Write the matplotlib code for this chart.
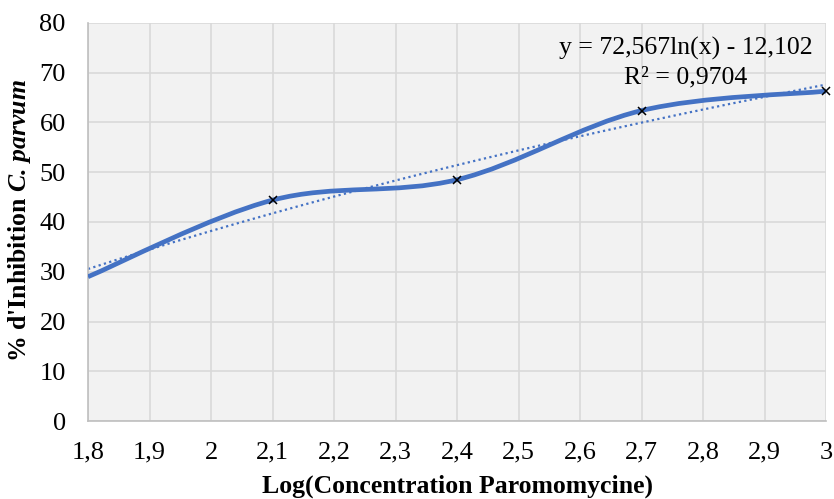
import numpy as np
import matplotlib
matplotlib.use("Agg")
import matplotlib.pyplot as plt
from matplotlib.path import Path
from matplotlib.patches import PathPatch

# Data
log_conc = [1.8, 2.1, 2.4, 2.7, 3.0]
inhibition = [29.0, 44.4, 48.5, 62.4, 66.3]
marker_idx = [1, 2, 3, 4]
trend_a, trend_b = 72.567, -12.102
x_ticks = [1.8, 1.9, 2.0, 2.1, 2.2, 2.3, 2.4, 2.5, 2.6, 2.7, 2.8, 2.9, 3.0]
x_labels = ["1,8", "1,9", "2", "2,1", "2,2", "2,3", "2,4", "2,5", "2,6", "2,7", "2,8", "2,9", "3"]
y_ticks = [0, 10, 20, 30, 40, 50, 60, 70, 80]
eq_text = "y = 72,567ln(x) - 12,102"
r2_text = "R² = 0,9704"

plt.rcParams['font.family'] = ['Liberation Serif', 'DejaVu Serif']
plt.rcParams['mathtext.fontset'] = 'custom'
plt.rcParams['mathtext.rm'] = 'Liberation Serif'
plt.rcParams['mathtext.it'] = 'Liberation Serif:italic'
plt.rcParams['mathtext.bf'] = 'Liberation Serif:bold'
try:
    plt.rcParams['mathtext.bfit'] = 'Liberation Serif:italic:bold'
except Exception:
    pass

W, H = 834, 499
fig = plt.figure(figsize=(W / 100, H / 100), dpi=100)
fig.patch.set_facecolor('white')
ax = fig.add_axes([88 / W, 1 - 421 / H, (826 - 88) / W, (421 - 23) / H])
ax.set_facecolor('#f2f2f2')

blue = '#4472C4'

# smoothed line (Excel-like Catmull-Rom bezier)
P = np.column_stack([log_conc, inhibition])
n = len(P)
verts = [tuple(P[0])]
codes = [Path.MOVETO]
for i in range(n - 1):
    p_prev = P[max(i - 1, 0)]
    p0 = P[i]
    p1 = P[i + 1]
    p_next = P[min(i + 2, n - 1)]
    c1 = p0 + (p1 - p_prev) / 6.0
    c2 = p1 - (p_next - p0) / 6.0
    verts += [tuple(c1), tuple(c2), tuple(p1)]
    codes += [Path.CURVE4] * 3
path = Path(verts, codes)
ax.add_patch(PathPatch(path, facecolor='none', edgecolor=blue, lw=3.4,
                       capstyle='butt', zorder=3))

# trendline
xt = np.linspace(x_ticks[0], x_ticks[-1], 200)
ax.plot(xt, trend_a * np.log(xt) + trend_b, linestyle=(0, (1, 1.5)),
        color=blue, lw=1.6, zorder=2)

# markers
ax.plot([log_conc[i] for i in marker_idx], [inhibition[i] for i in marker_idx],
        linestyle='none', marker='x', color='black', ms=6, mew=1.1, zorder=4,
        clip_on=False)

ax.set_xlim(1.8, 3.0)
ax.set_ylim(0, 80)
ax.set_xticks(x_ticks)
ax.set_xticklabels(x_labels)
ax.set_yticks(y_ticks)
ax.grid(True, color='#d9d9d9', lw=1.2)
ax.set_axisbelow(True)
for s in ['top', 'right']:
    ax.spines[s].set_visible(False)
for s in ['left', 'bottom']:
    ax.spines[s].set_color('#bfbfbf')
    ax.spines[s].set_linewidth(1.2)
ax.tick_params(axis='both', length=0, labelsize=19, colors='black')
ax.tick_params(axis='x', pad=15)
ax.tick_params(axis='y', pad=16)

ax.text(0.81, 0.935, eq_text, transform=ax.transAxes, ha='center', va='center',
        fontsize=18.5)
ax.text(0.81, 0.862, r2_text, transform=ax.transAxes, ha='center', va='center',
        fontsize=18.5)

fig.text(457 / W, 1 / H, "Log(Concentration Paromomycine)", ha='center',
         va='bottom', fontsize=18.5, fontweight='bold')
fig.text(20 / W, 1 - 220 / H, r"% d'Inhibition $\mathbfit{C.\,parvum}$",
         rotation=90, ha='center', va='center', fontsize=18.5, fontweight='bold')

fig.savefig('out.png', dpi=100, facecolor='white')
